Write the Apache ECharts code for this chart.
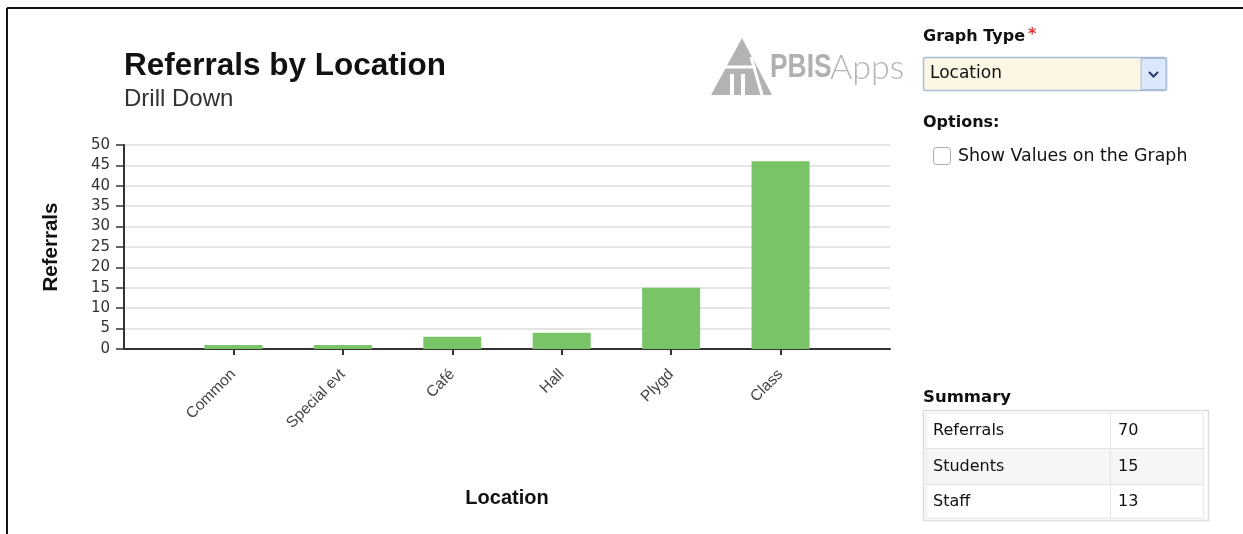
<!DOCTYPE html>
<html>
<head>
<meta charset="utf-8">
<script src="https://cdn.jsdelivr.net/npm/echarts@6/dist/echarts.min.js"></script>
<style>
html,body{margin:0;padding:0;background:#fff;}
#chart{width:1243px;height:534px;}
</style>
</head>
<body>
<div id="chart"></div>
<script>
// ---- data ----
const categories = ['Common', 'Special evt', 'Café', 'Hall', 'Plygd', 'Class'];
const referrals = [1, 1, 3, 4, 15, 46];
const yTicks = [0, 5, 10, 15, 20, 25, 30, 35, 40, 45, 50];
const summaryLabels = ['Referrals', 'Students', 'Staff'];
const summaryValues = [70, 15, 13];

// padded category axis: empty slot at each end
const axisCats = [''].concat(categories, ['']);
const axisVals = [null].concat(referrals, [null]);

const chart = echarts.init(document.getElementById('chart'));

const PF = '"DejaVu Sans"';
function txt(x, y, text, font, fill, extra) {
  const el = {type:'text', x:x, y:y, style:{text:text, font:font, fill:fill || '#111', verticalAlign:'middle', align:'left'}};
  return Object.assign(el, extra || {});
}
const graphics = [
  // frame
  {type:'line', shape:{x1:7, y1:8, x2:1243, y2:8}, style:{stroke:'#111', lineWidth:2}, silent:true},
  {type:'line', shape:{x1:7, y1:8, x2:7, y2:534}, style:{stroke:'#111', lineWidth:2}, silent:true},
  // logo
  {type:'polygon', shape:{points:[[711,95],[742,38],[772,95]]}, style:{fill:'#b3b3b3'}},
  {type:'line', shape:{x1:719, y1:67, x2:756, y2:67}, style:{stroke:'#fff', lineWidth:3}},
  {type:'line', shape:{x1:751, y1:57, x2:762, y2:95}, style:{stroke:'#fff', lineWidth:3}},
  {type:'rect', shape:{x:730, y:74, width:4, height:21}, style:{fill:'#fff'}},
  {type:'rect', shape:{x:741, y:74, width:4, height:21}, style:{fill:'#fff'}},
  txt(0, 0, 'PBIS', 'bold 33px "Liberation Sans", Arial', '#b0b0b0', {x:770, y:68, scaleX:0.8}),
  txt(830, 68, 'Apps', '300 34px Lato, "Liberation Sans", Arial', '#b5b5b5'),
  // Graph type
  txt(923, 37, 'Graph Type', 'bold 16px ' + PF),
  txt(1028, 35, '*', 'bold 16px ' + PF, '#d33'),
  {type:'rect', shape:{x:923.5, y:57.5, width:243, height:33, r:2}, style:{fill:'#fcf7e4', stroke:'#a9bdd6', lineWidth:1.5}},
  {type:'rect', shape:{x:1141, y:58.5, width:25, height:31}, style:{fill:'#d9e8fb', stroke:'#a9bdd6', lineWidth:1}},
  {type:'polyline', shape:{points:[[1149,72],[1153.5,76.5],[1158,72]]}, style:{stroke:'#2a3f6e', lineWidth:2.2, fill:null}},
  txt(930, 74, 'Location', '17px ' + PF),
  // Options
  txt(923, 123, 'Options:', 'bold 16px ' + PF),
  {type:'rect', shape:{x:933.5, y:147.5, width:17, height:17, r:3}, style:{fill:'#fff', stroke:'#aaa', lineWidth:1}},
  txt(958, 156, 'Show Values on the Graph', '17.4px ' + PF),
  // Summary
  txt(923, 398, 'Summary', 'bold 16.5px ' + PF),
  {type:'rect', shape:{x:923.5, y:410.5, width:285, height:110}, style:{fill:'#fff', stroke:'#ddd', lineWidth:1.5}},
  {type:'rect', shape:{x:926, y:449, width:277, height:35}, style:{fill:'#f6f6f6'}},
  {type:'line', shape:{x1:926, y1:413, x2:1203, y2:413}, style:{stroke:'#e4e4e4', lineWidth:1}},
  {type:'line', shape:{x1:926, y1:448.5, x2:1203, y2:448.5}, style:{stroke:'#e4e4e4', lineWidth:1}},
  {type:'line', shape:{x1:926, y1:484.5, x2:1203, y2:484.5}, style:{stroke:'#e4e4e4', lineWidth:1}},
  {type:'line', shape:{x1:926, y1:518, x2:1203, y2:518}, style:{stroke:'#e4e4e4', lineWidth:1}},
  {type:'line', shape:{x1:926, y1:413, x2:926, y2:518}, style:{stroke:'#e4e4e4', lineWidth:1}},
  {type:'line', shape:{x1:1110.5, y1:413, x2:1110.5, y2:518}, style:{stroke:'#e4e4e4', lineWidth:1}},
  {type:'line', shape:{x1:1203.5, y1:413, x2:1203.5, y2:518}, style:{stroke:'#e4e4e4', lineWidth:1}}
];
summaryLabels.forEach((lab, i) => {
  const cy = 431 + i * 35.5;
  graphics.push(txt(933, cy, lab, '16px ' + PF));
  graphics.push(txt(1118, cy, String(summaryValues[i]), '16px ' + PF));
});

chart.setOption({
  animation: false,
  backgroundColor: '#fff',
  title: {
    text: 'Referrals by Location',
    subtext: 'Drill Down',
    left: 119, top: 45,
    itemGap: 5,
    textStyle: {fontFamily:'Liberation Sans', fontWeight:'bold', fontSize:31.5, color:'#111'},
    subtextStyle: {fontFamily:'Liberation Sans', fontSize:24, color:'#333'}
  },
  grid: {left:124, top:145, right:353, bottom:185, containLabel:false},
  xAxis: {
    type: 'category',
    data: axisCats,
    boundaryGap: false,
    name: 'Location',
    nameLocation: 'middle',
    nameGap: 139,
    nameTextStyle: {fontFamily:'Liberation Sans', fontWeight:'bold', fontSize:20, color:'#111'},
    axisLine: {lineStyle:{color:'#333', width:2}},
    axisTick: {show:true, length:6, lineStyle:{color:'#333', width:2}, interval: (i, v) => v !== ''},
    axisLabel: {rotate:45, margin:23, interval:0, fontFamily:'Liberation Sans', fontSize:15.5, color:'#444'},
    splitLine: {show:false}
  },
  yAxis: {
    type: 'value',
    min: 0, max: 50, interval: 5,
    name: 'Referrals',
    nameLocation: 'middle',
    nameGap: 62,
    nameTextStyle: {fontFamily:'Liberation Sans', fontWeight:'bold', fontSize:20.5, color:'#111'},
    axisLine: {show:true, lineStyle:{color:'#333', width:2}},
    axisTick: {show:true, length:8, lineStyle:{color:'#333', width:1.5}},
    axisLabel: {margin:14, fontFamily:'DejaVu Sans', fontSize:15, color:'#333',
      formatter: v => yTicks.indexOf(v) >= 0 ? String(v) : ''},
    splitLine: {show:true, lineStyle:{color:'#dcdcdc', width:1.5}}
  },
  series: [{
    type: 'bar',
    data: axisVals,
    barWidth: 58,
    itemStyle: {color:'#78c467'}
  }],
  graphic: graphics
});
</script>
</body>
</html>
